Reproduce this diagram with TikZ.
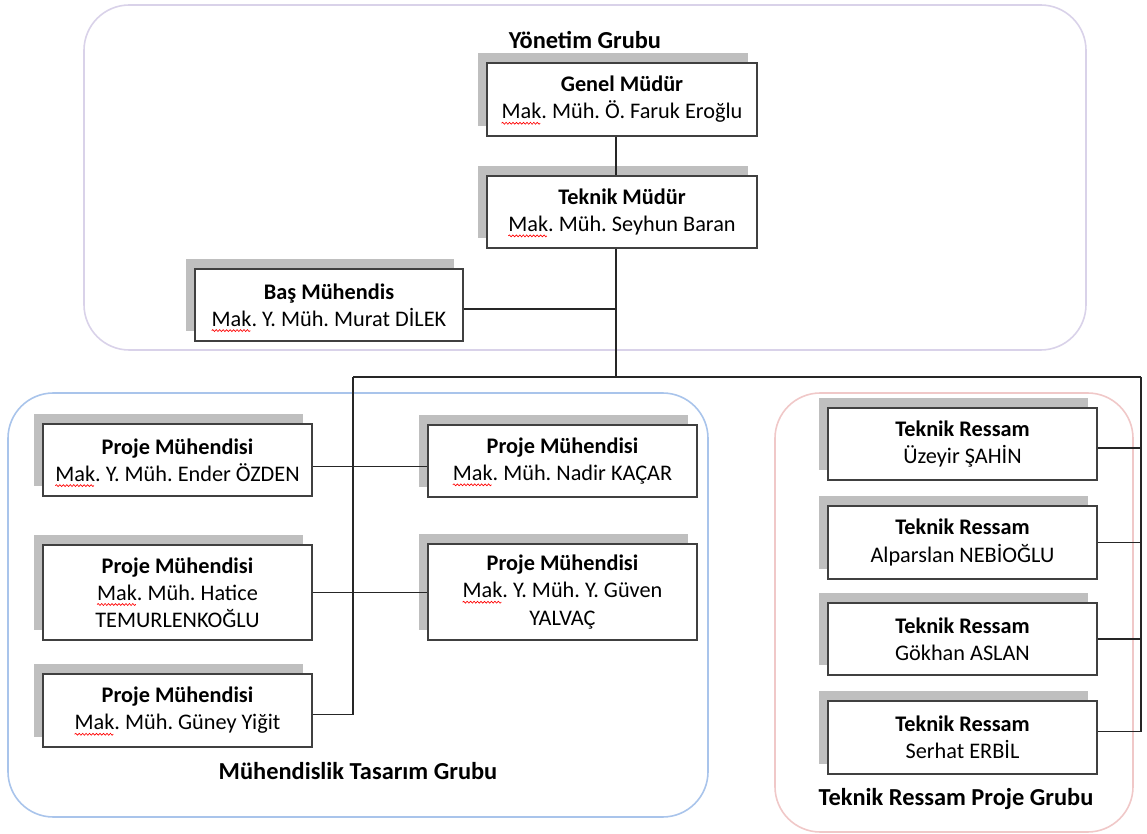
\documentclass[tikz,border=0pt]{standalone}
\usepackage{fontspec}
\setmainfont{Carlito}
\usetikzlibrary{shadows,calc,decorations.pathmorphing}
\definecolor{boxline}{RGB}{64,64,64}
\definecolor{shade}{RGB}{191,191,191}
\definecolor{grpA}{RGB}{217,210,233}
\definecolor{grpB}{RGB}{169,196,235}
\definecolor{grpC}{RGB}{240,200,200}
\newcommand\mak{\leavevmode\tikz[overlay,x=1pt,y=1pt,baseline=0pt]{\draw[red,line width=0.5pt,decorate,decoration={snake,amplitude=0.7pt,segment length=2.6pt}] (0,-3.2) -- (29,-3.2);}Mak.}
\begin{document}
\begin{tikzpicture}[x=0.75pt,y=-0.75pt,
 box/.style={draw=boxline,line width=1pt,fill=white,align=center,inner sep=0pt,
   minimum width=201.75pt,minimum height=54pt,font=\fontsize{16.7}{20.4}\selectfont\frenchspacing,
   drop shadow={shadow xshift=-6.75pt,shadow yshift=7.5pt,fill=shade,opacity=1}},
 grp/.style={line width=1.2pt,rounded corners=34pt},
 glabel/.style={font=\fontsize{18.3}{22}\selectfont\bfseries,anchor=base,inner sep=0pt},
 conn/.style={draw=black!85,line width=0.9pt}]
\useasboundingbox (0,0) rectangle (1147,834);
% groups
\draw[grp,draw=grpA] (84,5) rectangle (1086,350);
\draw[grp,draw=grpB] (8,393) rectangle (708,817);
\draw[grp,draw=grpC] (775,393) rectangle (1133,832);
\node[glabel] (lblA) at (585,49) {Yönetim Grubu};
\node[glabel] (lblB) at (358,779) {Mühendislik Tasarım Grubu};
\node[glabel] (lblC) at (956,805) {Teknik Ressam Proje Grubu};
% coordinates
\coordinate (spine) at (616,377);
\coordinate (busL) at (353,377);
\coordinate (busR) at (1141,377);
% boxes
\node[box,minimum width=202.5pt,minimum height=54.75pt] (gm) at (622,99.5) {\textbf{Genel Müdür}\\\mak{} Müh. Ö. Faruk Eroğlu};
\node[box,minimum width=202.5pt] (tm) at (622,212) {\textbf{Teknik Müdür}\\\mak{} Müh. Seyhun Baran};
\node[box,minimum width=201pt] (bm) at (329,305) {\textbf{Baş Mühendis}\\\mak{} Y. Müh. Murat DİLEK};
\node[box] (pe1) at (177.5,460) {\textbf{Proje Mühendisi}\\\mak{} Y. Müh. Ender ÖZDEN};
\node[box,minimum height=71.25pt] (pe2) at (177.5,592.5) {\textbf{Proje Mühendisi}\\\mak{} Müh. Hatice\\TEMURLENKOĞLU};
\node[box,minimum height=54.75pt] (pe3) at (177.5,710.5) {\textbf{Proje Mühendisi}\\\mak{} Müh. Güney Yiğit};
\node[box] (pe4) at (562.5,461) {\textbf{Proje Mühendisi}\\\mak{} Müh. Nadir KAÇAR};
\node[box,minimum height=72pt] (pe5) at (562.5,592) {\textbf{Proje Mühendisi}\\\mak{} Y. Müh. Y. Güven\\YALVAÇ};
\node[box] (tr1) at (962.5,444) {\textbf{Teknik Ressam}\\Üzeyir ŞAHİN};
\node[box,minimum height=54.75pt] (tr2) at (962.5,542.5) {\textbf{Teknik Ressam}\\Alparslan NEBİOĞLU};
\node[box] (tr3) at (962.5,639) {\textbf{Teknik Ressam}\\Gökhan ASLAN};
\node[box,minimum height=54.75pt] (tr4) at (962.5,737.5) {\textbf{Teknik Ressam}\\Serhat ERBİL};
% connectors
\draw[conn] (gm.south -| spine) -- (tm.north -| spine);
\draw[conn] (tm.south -| spine) -- (spine);
\draw[conn] ([yshift=-3pt]bm.east) -- ([yshift=-3pt]bm.east -| spine);
\draw[conn] (busL) -- (busR);
\draw[conn] (busL) |- ([yshift=-3pt]pe3.east);
\draw[conn] ([yshift=-5pt]pe1.east) -- ([yshift=-5pt]pe1.east -| pe4.west);
\draw[conn] (pe2.east) -- (pe2.east -| pe5.west);
\draw[conn] (busR) |- ([yshift=4.5pt]tr4.east);
\draw[conn] ([yshift=-3pt]tr1.east) -- ([yshift=-3pt]tr1.east -| busR);
\draw[conn] (tr2.east) -- (tr2.east -| busR);
\draw[conn] (tr3.east) -- (tr3.east -| busR);
\end{tikzpicture}
\end{document}
